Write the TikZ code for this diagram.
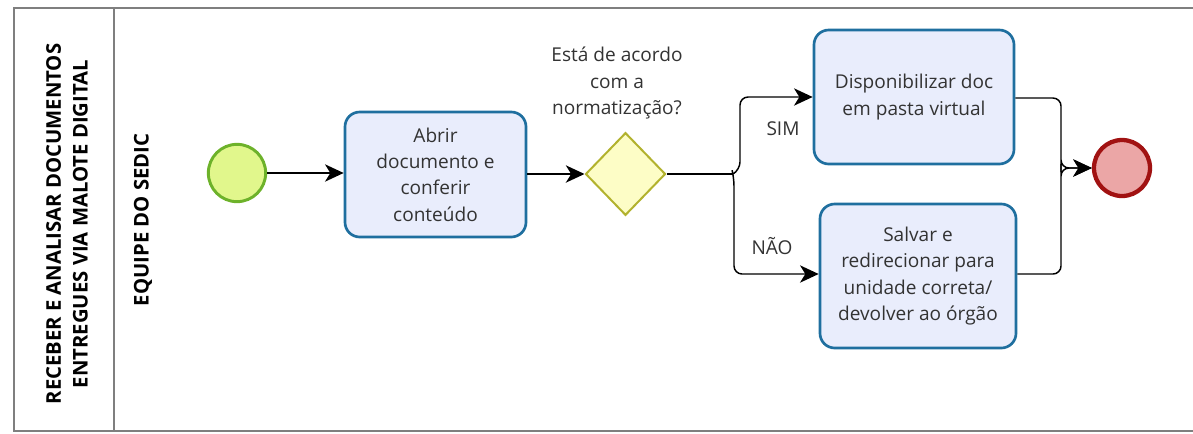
\documentclass[tikz,border=0pt]{standalone}
\usepackage{fontspec}
\setmainfont{Open Sans}
\usetikzlibrary{arrows.meta,shapes.geometric}
\definecolor{lanegray}{HTML}{7F7F7F}
\definecolor{taskblue}{HTML}{1F6F9F}
\definecolor{taskfill}{HTML}{E9EDFC}
\definecolor{gwstroke}{HTML}{B2B22E}
\definecolor{gwfill}{HTML}{FDFDC6}
\definecolor{stgreen}{HTML}{6DB22A}
\definecolor{stfill}{HTML}{E1F78C}
\definecolor{endred}{HTML}{A11212}
\definecolor{endfill}{HTML}{EBA6A6}
\definecolor{txt}{HTML}{333333}
\tikzset{
  lane/.style={draw=lanegray, line width=1.5pt},
  task/.style={draw=taskblue, fill=taskfill, line width=2pt, rounded corners=11pt,
    inner sep=0pt, align=center, text=txt, font=\fontsize{14.3}{19.8}\selectfont},
  gw/.style={draw=gwstroke, fill=gwfill, line width=1.5pt, diamond, inner sep=0pt,
    minimum width=60pt, minimum height=62pt},
  startev/.style={circle, draw=stgreen, fill=stfill, line width=2.2pt, minimum size=43pt, inner sep=0pt},
  endev/.style={circle, draw=endred, fill=endfill, line width=3.2pt, minimum size=42pt, inner sep=0pt},
  flow/.style={draw=black, line width=1.1pt, -{Stealth[length=14pt,width=13pt,inset=4pt]}},
  lbl/.style={text=txt, font=\fontsize{14.3}{19.8}\selectfont, align=center},
  lanelbl/.style={rotate=90, font=\bfseries\fontsize{15.2}{20}\selectfont, align=center, text=black}
}
\begin{document}
\begin{tikzpicture}[x=0.75pt, y=-0.75pt]
\useasboundingbox (0,0) rectangle (1193,433);
% lanes
\draw[lane] (1193,8) -- (14,8) -- (14,431) -- (1193,431);
\draw[lane] (114,8) -- (114,431);
\node[lanelbl] (pool) at (67,224) {RECEBER E ANALISAR DOCUMENTOS\\ENTREGUES VIA MALOTE DIGITAL};
\node[lanelbl] (lanename) at (143,220) {EQUIPE DO SEDIC};
% nodes
\node[startev] (start) at (237,173) {};
\node[task, minimum width=135.75pt, minimum height=93.75pt] (abrir) at (435.5,174.5) {Abrir\\documento e\\conferir\\conteúdo};
\node[gw] (gw) at (625.5,174) {};
\node[lbl] (gwlbl) at (617,83) {Está de acordo\\com a\\normatização?};
\node[task, minimum width=150pt, minimum height=100.5pt] (disp) at (914,97) {Disponibilizar doc\\em pasta virtual};
\node[task, minimum width=147pt, minimum height=108pt] (salvar) at (918,276) {Salvar e\\redirecionar para\\unidade correta/\\devolver ao órgão};
\node[endev] (end) at (1122,168) {};
\coordinate (split) at (733,174);
\coordinate (join) at (1061,168);
\node[lbl] (sim) at (783,129) {SIM};
\node[lbl] (nao) at (772,246) {NÃO};
% flows
\draw[flow] (start) -- (abrir.west |- start);
\draw[flow] (abrir.east |- gw) -- (gw.west);
\draw[draw=black, line width=1.1pt] (gw.east) -- (split);
\draw[flow, rounded corners=6pt] (split) -- (740,170) -- (740,97) -- (disp.west |- 0,97);
\draw[flow, rounded corners=6pt] (split) -- (734,178) -- (734,274) -- (salvar.west |- 0,274);
\draw[flow, rounded corners=6pt] (disp.east |- 0,98) -- (1061,98) -- (1061,164) -- (join) -- (end.west);
\draw[flow, rounded corners=6pt] (salvar.east |- 0,274) -- (1061,274) -- (1061,172) -- (join) -- (end.west);
\end{tikzpicture}
\end{document}
